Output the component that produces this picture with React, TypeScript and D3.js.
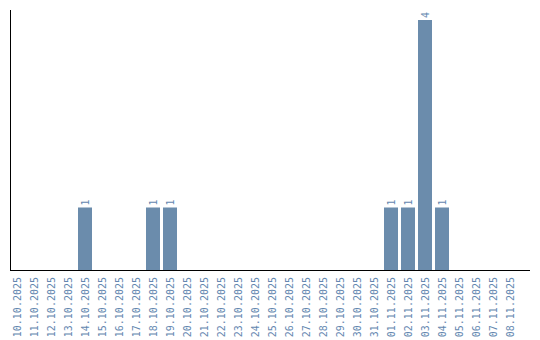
import React from "react";
import * as d3 from "d3";

const categories = [
  "10.10.2025", "11.10.2025", "12.10.2025", "13.10.2025", "14.10.2025",
  "15.10.2025", "16.10.2025", "17.10.2025", "18.10.2025", "19.10.2025",
  "20.10.2025", "21.10.2025", "22.10.2025", "23.10.2025", "24.10.2025",
  "25.10.2025", "26.10.2025", "27.10.2025", "28.10.2025", "29.10.2025",
  "30.10.2025", "31.10.2025", "01.11.2025", "02.11.2025", "03.11.2025",
  "04.11.2025", "05.11.2025", "06.11.2025", "07.11.2025", "08.11.2025",
];
const values = [
  0, 0, 0, 0, 1, 0, 0, 0, 1, 1,
  0, 0, 0, 0, 0, 0, 0, 0, 0, 0,
  0, 0, 1, 1, 4, 1, 0, 0, 0, 0,
];

const W = 540;
const H = 340;
const left = 10;
const bottom = 270;
const top = 10;
const axisRight = 530;
const barColor = "#6b8cac";
const textColor = "#6487b0";
const font = "'DejaVu Sans Mono', 'Liberation Mono', monospace";

export default function App() {
  const x = d3
    .scaleBand<string>()
    .domain(categories)
    .range([left - 1.5, left - 1.5 + 17 * 30])
    .paddingInner(3 / 17)
    .paddingOuter(3 / 34);
  const y = d3
    .scaleLinear()
    .domain([0, (d3.max(values) ?? 1) * 1.04])
    .range([bottom, top]);

  return (
    <svg
      width={W}
      height={H}
      style={{ position: "absolute", left: 0, top: 0 }}
    >
      {categories.map((c, i) =>
        values[i] > 0 ? (
          <rect
            key={c}
            x={x(c)}
            y={y(values[i])}
            width={x.bandwidth()}
            height={bottom - y(values[i])}
            fill={barColor}
          />
        ) : null
      )}
      {categories.map((c, i) =>
        values[i] > 0 ? (
          <text
            key={"v" + c}
            transform={`translate(${(x(c) ?? 0) + x.bandwidth() / 2 + 3.5},${y(values[i]) - 2}) rotate(-90)`}
            fontSize={10}
            fontFamily={font}
            fill={textColor}
            textAnchor="start"
          >
            {values[i]}
          </text>
        ) : null
      )}
      <line x1={left + 0.5} x2={left + 0.5} y1={top} y2={bottom} stroke="#000" strokeWidth={1} />
      <line x1={left} x2={axisRight} y1={bottom + 0.5} y2={bottom + 0.5} stroke="#000" strokeWidth={1} />
      {categories.map((c) => (
        <text
          key={"l" + c}
          transform={`translate(${(x(c) ?? 0) + x.bandwidth() / 2 + 3.5},${bottom + 7}) rotate(-90)`}
          fontSize={10}
          fontFamily={font}
          fill={textColor}
          textAnchor="end"
        >
          {c}
        </text>
      ))}
    </svg>
  );
}
